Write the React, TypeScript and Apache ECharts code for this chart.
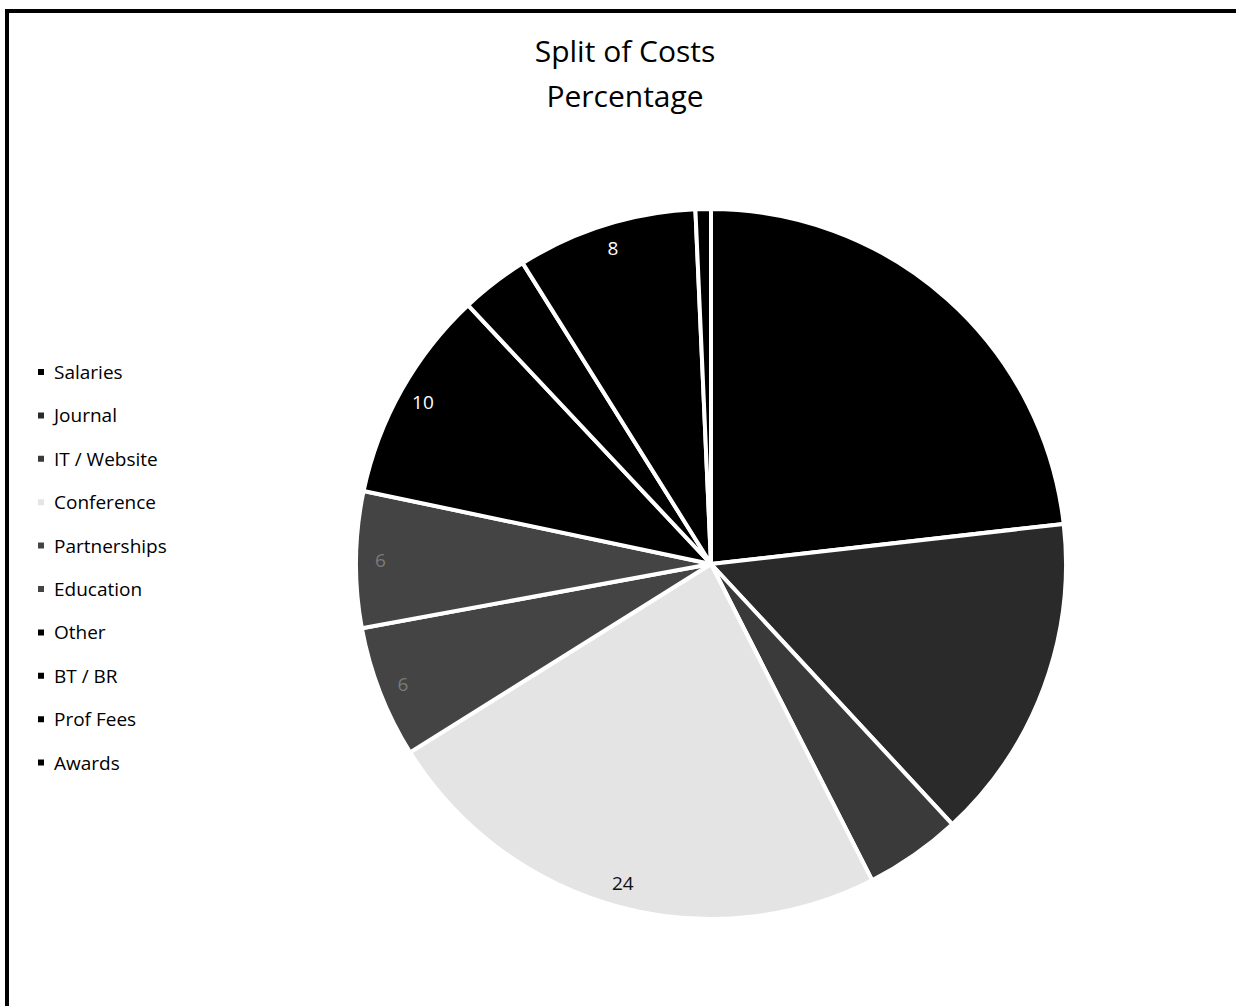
import React, { useEffect, useRef } from 'react';
import * as echarts from 'echarts';

const titleLines = ['Split of Costs', 'Percentage'];
const categories = ['Salaries', 'Journal', 'IT / Website', 'Conference', 'Partnerships', 'Education', 'Other', 'BT / BR', 'Prof Fees', 'Awards'];
const values = [23.2, 14.9, 4.4, 23.6, 6.0, 6.2, 9.7, 3.1, 8.2, 0.7];
const sliceColors = ['#000000', '#2a2a2a', '#3a3a3a', '#e4e4e4', '#444444', '#444444', '#000000', '#000000', '#000000', '#000000'];
const labelColors = ['#000000', '#2a2a2a', '#3a3a3a', '#111111', '#7a7a7a', '#7a7a7a', '#ffffff', '#000000', '#ffffff', '#000000'];
const labelShown = [false, false, false, true, true, true, true, false, true, false];

export default function App() {
  const ref = useRef<HTMLDivElement>(null);
  useEffect(() => {
    const chart = echarts.init(ref.current!, null, { renderer: 'svg' });
    const font = "'Open Sans', sans-serif";
    const mainData = categories.map((name, i) => ({
      name,
      value: values[i],
      itemStyle: { color: sliceColors[i] },
    }));
    const labelData = categories.map((name, i) => ({
      name,
      value: values[i],
      label: { show: labelShown[i], color: labelColors[i] },
    }));
    chart.setOption({
      animation: false,
      backgroundColor: '#ffffff',
      graphic: [
        {
          type: 'rect',
          shape: { x: 7, y: 11, width: 1400, height: 1200 },
          style: { fill: 'none', stroke: '#000', lineWidth: 4 },
          silent: true,
        },
        {
          type: 'text',
          x: 625,
          y: 50,
          style: { text: titleLines[0], font: `30px ${font}`, fill: '#000', textAlign: 'center', textVerticalAlign: 'middle' },
        },
        {
          type: 'text',
          x: 625,
          y: 95,
          style: { text: titleLines[1], font: `30px ${font}`, fill: '#000', textAlign: 'center', textVerticalAlign: 'middle' },
        },
      ],
      legend: {
        orient: 'vertical',
        left: 31,
        top: 356,
        itemWidth: 16,
        itemHeight: 8,
        itemGap: 21.4,
        icon: 'path://M0,0h6v6h-6z',
        symbolKeepAspect: true,
        selectedMode: false,
        textStyle: { fontFamily: font, fontSize: 19, color: '#000', lineHeight: 22 },
        data: categories,
      },
      series: [
        {
          type: 'pie',
          center: [711, 564],
          radius: 355,
          startAngle: 90,
          clockwise: true,
          silent: true,
          data: mainData,
          label: { show: false },
          labelLine: { show: false },
          itemStyle: { borderColor: '#ffffff', borderWidth: 4 },
          emphasis: { disabled: true },
        },
        {
          type: 'pie',
          center: [711, 564],
          radius: [300, 355],
          startAngle: 90,
          clockwise: true,
          silent: true,
          data: labelData,
          itemStyle: { color: 'rgba(0,0,0,0)', borderWidth: 0 },
          label: {
            show: true,
            position: 'inside',
            fontFamily: font,
            fontSize: 19,
            formatter: (p: any) => String(Math.round(p.value)),
          },
          labelLine: { show: false },
          emphasis: { disabled: true },
        },
      ],
    });
    return () => chart.dispose();
  }, []);
  return <div ref={ref} style={{ position: 'fixed', left: 0, top: 0, width: 1236, height: 1006 }} />;
}
